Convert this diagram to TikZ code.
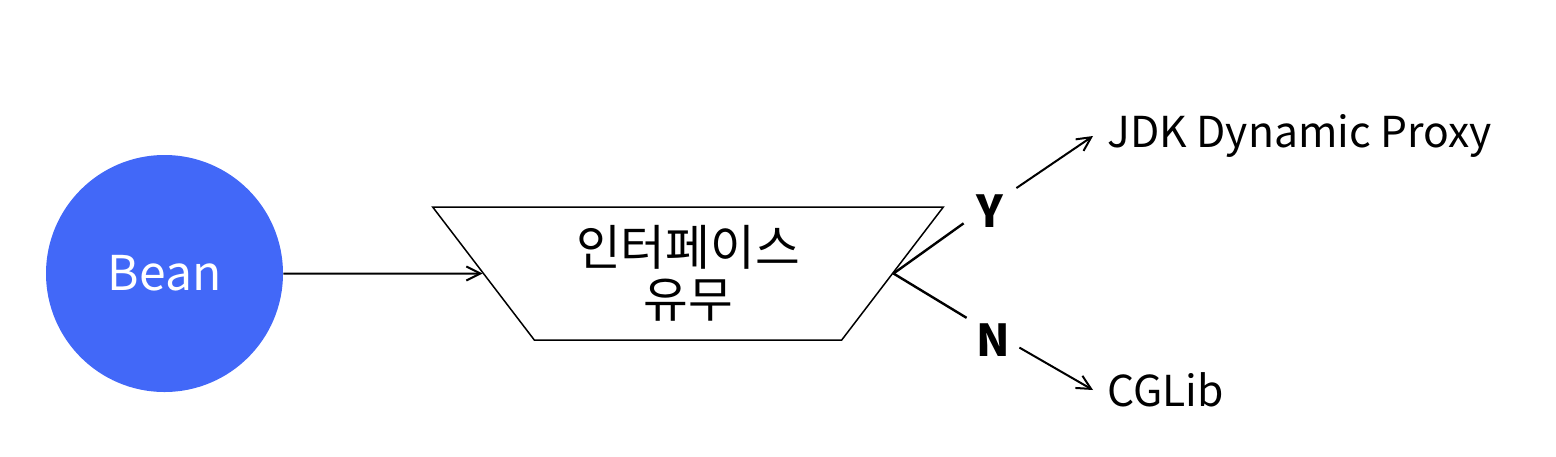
\documentclass[tikz,border=0pt]{standalone}
\usepackage{fontspec}
\setmainfont{Noto Sans CJK KR}
\usetikzlibrary{arrows.meta,positioning,shapes.geometric}
\definecolor{beanblue}{RGB}{66,104,248}

\begin{document}
\begin{tikzpicture}[x=0.5pt,y=-0.5pt,
  bean/.style={circle,fill=beanblue,text=white,minimum size=118.5pt,
    inner sep=0pt,font=\fontsize{24}{28}\selectfont},
  check/.style={trapezium,draw,line width=0.75pt,shape border rotate=180,
    trapezium left angle=52.4,trapezium right angle=52.4,trapezium stretches=true,
    minimum width=256pt,minimum height=66.5pt,inner sep=0pt,align=center,
    font=\fontsize{24.3}{26}\selectfont},
  answer/.style={minimum width=26pt,minimum height=23.5pt,inner sep=0pt,
    font=\fontsize{22}{26}\selectfont\bfseries},
  result/.style={anchor=west,inner xsep=7pt,font=\fontsize{21.3}{24}\selectfont},
  branch/.style={line width=1.2pt},
  arr/.style={-{Straight Barb[length=7pt,width=7pt]},line width=1pt}
]
\useasboundingbox (0,0) rectangle (1556,456);

\node[bean] (bean) at (164.5,273.5) {Bean};
\node[check] (iface) at (688,273.5) {인터페이스\\유무};
\node[answer] (yes) at (990,211) {Y};
\node[answer] (no) at (993,340) {N};
\node[result] (jdk) at (1093,136) {JDK Dynamic Proxy};
\node[result] (cglib) at (1093,390) {CGLib};

\draw[arr] (bean) -- (iface);
\draw[branch] (iface.0) -- (yes.205);
\draw[branch] (iface.0) -- (no.140);
\draw[arr] (yes.41) -- (jdk.west);
\draw[arr] (no.-16) -- (cglib.west);
\end{tikzpicture}
\end{document}
